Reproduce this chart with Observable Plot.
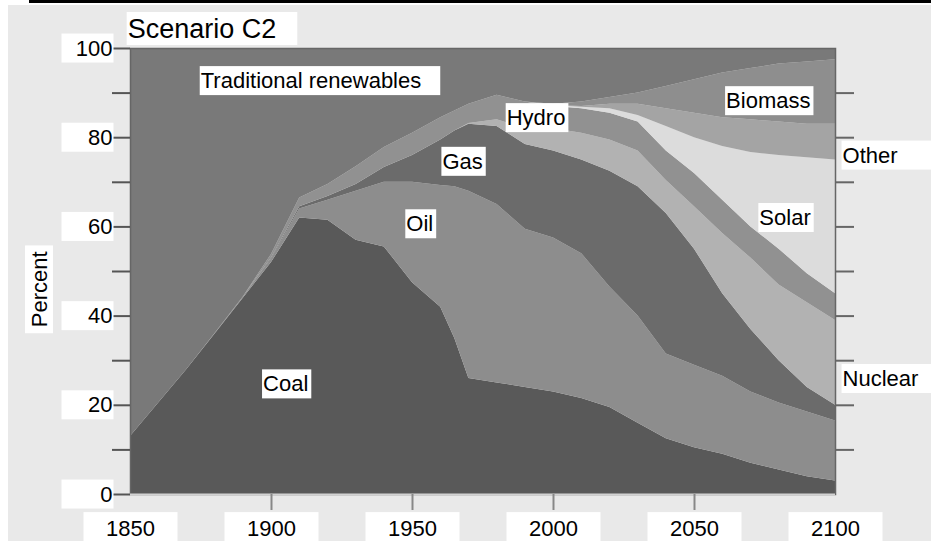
<!DOCTYPE html>
<html><head><meta charset="utf-8">
<script src="https://cdn.jsdelivr.net/npm/d3@7"></script>
<script src="https://cdn.jsdelivr.net/npm/@observablehq/plot@0.6"></script>
<style>
html,body{margin:0;padding:0;background:#fff;width:931px;height:541px;overflow:hidden;position:relative;}
#topline{position:absolute;left:29px;top:0;width:902px;height:3px;background:#000;}
#chart{position:absolute;left:8px;top:5px;}
</style></head><body>
<div id="chart"></div><div id="topline"></div>
<script>
const years = [1850,1860,1870,1880,1890,1900,1910,1920,1930,1940,1950,1960,1965,1970,1980,1990,2000,2010,2020,2030,2040,2050,2060,2070,2080,2090,2100];
const coal    = [13,20.5,28,36,44,52,62,61.5,57,55.5,47.5,42,35,26,25,24,23,21.5,19.5,16,12.5,10.5,9,7,5.5,4,3];
const oil     = [0,0,0,0.1,0.3,0.8,2,4.5,11,14.5,22.5,27.3,34,42,40,35.5,34.5,32.5,27,24,19,18.5,17.5,16,15,14.5,13.5];
const gas     = [0,0,0,0,0,0.2,0.5,0.8,1.5,3.3,6,10.2,12.5,15,17.5,19,19.5,21,26,29,31.5,26,18.5,14,9.5,5.5,3.5];
const nuclear = [0,0,0,0,0,0,0,0,0,0,0,0,0,0.2,1.5,3.5,5,6,7,8,7.4,9.5,13.5,16,17,19,19];
const hydro   = [0,0,0,0,0,0.8,2,2.7,4,4.5,5,5,4.5,4.3,5.5,6,5,5.5,6,6.5,6.6,7.5,7.5,7,8,6.5,6];
const solar   = [0,0,0,0,0,0,0,0,0,0,0,0,0,0,0,0,0.2,0.3,1,1.5,5.5,8,12,16.7,21,26,30];
const other   = [0,0,0,0,0,0,0,0,0,0,0,0,0,0,0,0,0,0.2,1,2.5,4,5.5,6.5,7.3,7.5,7.5,8];
const biomass = [0,0,0,0,0,0,0,0,0,0,0,0,0,0,0,0,0.3,1,1.5,2.5,5,7.5,10,11.5,13,14,14.5];
const traditional = [87,79.5,72,63.9,55.7,46.2,33.5,30.5,26.5,22.2,19,15.5,14,12.5,10.5,12,12.5,12,11,10,8.5,7,5.5,4.5,3.5,3,2.5];

const seriesNames = ["Coal","Oil","Gas","Nuclear","Hydro","Solar","Other","Biomass","Traditional renewables"];
const seriesValues = [coal, oil, gas, nuclear, hydro, solar, other, biomass, traditional];
const palette = ["#595959","#8d8d8d","#6b6b6b","#b2b2b2","#919191","#dcdcdc","#a4a4a4","#8e8e8e","#797979"];

const xTickLabels = [1850,1900,1950,2000,2050,2100];
const xTickMarks = [1900,1950,2000,2050];
const yTickLabels = [0,20,40,60,80,100];
const yTickMarks = [0,10,20,30,40,50,60,70,80,90,100];
const yTickMarksRight = [10,20,30,40,50,60,70,80,90];

const labelNames  = ["Traditional renewables","Hydro","Gas","Oil","Coal","Biomass","Solar","Other","Nuclear"];
const labelYears  = [1874.9,1983.4,1960.6,1947.8,1897,2061.2,2073,2102.5,2102.5];
const labelValues = [92.7,84.4,74.6,60.6,24.7,88.2,62,76,25.9];

const titleText = ["Scenario C2"];
const titleYear = [1849];
const titleValue = [104.4];
const axisTitle = ["Percent"];
const axisTitleValue = [46];

const rows = seriesNames.flatMap((s, i) => years.map((yr, j) => ({series: s, year: yr, share: seriesValues[i][j]})));
const labels = labelNames.map((t, i) => ({text: t, year: labelYears[i], value: labelValues[i]}));
const titles = titleText.map((t, i) => ({text: t, year: titleYear[i], value: titleValue[i]}));
const axisTitles = axisTitle.map((t, i) => ({text: t, value: axisTitleValue[i]}));

const font = "Liberation Sans, Arial, Helvetica, sans-serif";

const svg = Plot.plot({
  width: 923, height: 536,
  marginLeft: 122, marginRight: 96, marginTop: 43, marginBottom: 47,
  style: {background: "#e9e9e9", fontFamily: font, color: "#000", overflow: "visible"},
  x: {domain: [1850, 2100]},
  y: {domain: [0, 100]},
  color: {domain: seriesNames, range: palette},
  marks: [
    Plot.areaY(rows, {x: "year", y: "share", fill: "series", order: seriesNames}),
    Plot.frame({stroke: "#666", strokeWidth: 1.5}),
    Plot.ruleY([0], {stroke: "#d2d2d2", strokeWidth: 2}),
    Plot.axisY({ticks: yTickMarks, tickSize: 18, text: null, label: null, stroke: "#555", strokeWidth: 2}),
    Plot.axisY({anchor: "right", ticks: yTickMarksRight, tickSize: 18, text: null, label: null, stroke: "#666", strokeWidth: 2}),
    Plot.axisX({ticks: xTickMarks, tickSize: 16, text: null, label: null, stroke: "#888", strokeWidth: 2}),
    Plot.axisY({ticks: yTickLabels, tickSize: 0, tickPadding: 18, fontSize: 22, label: null}),
    Plot.axisX({ticks: xTickLabels, tickSize: 0, tickPadding: 26, fontSize: 22, label: null, tickFormat: d => String(d)}),
    Plot.text(labels, {x: "year", y: "value", text: "text", textAnchor: "start", lineAnchor: "middle", fontSize: 22, fill: "#000"}),
    Plot.text(titles, {x: "year", y: "value", text: "text", textAnchor: "start", lineAnchor: "middle", fontSize: 27, fill: "#000"}),
    Plot.text(axisTitles, {frameAnchor: "left", y: "value", text: "text", rotate: -90, dx: -91, textAnchor: "middle", lineAnchor: "middle", fontSize: 22, fill: "#000"})
  ]
});
document.getElementById("chart").append(svg);

const NS = "http://www.w3.org/2000/svg";
const sr = svg.getBoundingClientRect();
const yLabelSet = new Set(yTickLabels.map(String));
const xLabelSet = new Set(xTickLabels.map(String));
const seriesLabelSet = new Set(labelNames);
const titleSet = new Set(titleText);
const percentSet = new Set(axisTitle);
const extraRight = {"Traditional renewables": 20, "Other": 60, "Nuclear": 40};

function boxFor(b) {
  const t = b.text;
  if (yLabelSet.has(t)) return {x: b.x + b.w - 51, y: b.y + b.h / 2 - 14.5, w: 52, h: 29};
  if (xLabelSet.has(t)) return {x: b.x + b.w / 2 - 47, y: b.y - 4, w: 94, h: 40};
  if (seriesLabelSet.has(t)) return {x: b.x - 1, y: b.y + b.h / 2 - 14.5, w: b.w + (extraRight[t] ?? 4), h: 29};
  if (titleSet.has(t)) return {x: b.x - 1, y: b.y + b.h / 2 - 16.5, w: b.w + 22, h: 33};
  if (percentSet.has(t)) return {x: b.x + b.w / 2 - 14, y: b.y - 6, w: 28, h: b.h + 12};
  return null;
}

const groups = new Map();
svg.querySelectorAll("text").forEach(t => {
  const r = t.getBoundingClientRect();
  const b = boxFor({x: r.left - sr.left, y: r.top - sr.top, w: r.width, h: r.height, text: t.textContent});
  if (!b) return;
  let top = t;
  while (top.parentNode !== svg) top = top.parentNode;
  if (!groups.has(top)) {
    const g = document.createElementNS(NS, "g");
    svg.insertBefore(g, top);
    groups.set(top, g);
  }
  const rect = document.createElementNS(NS, "rect");
  rect.setAttribute("x", b.x); rect.setAttribute("y", b.y);
  rect.setAttribute("width", b.w); rect.setAttribute("height", b.h);
  rect.setAttribute("fill", "#fff");
  groups.get(top).appendChild(rect);
});
</script>
</body></html>
